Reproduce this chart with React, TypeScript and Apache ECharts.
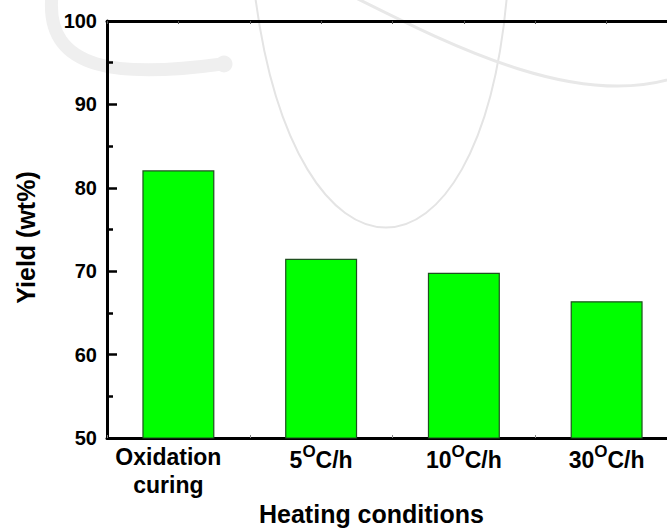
import React, { useEffect, useRef } from "react";
import * as echarts from "echarts";

// Heating conditions and the resulting yield (wt%)
const categories = ["Oxidation curing", "5 °C/h", "10 °C/h", "30 °C/h"];
const yields = [82.1, 71.5, 69.8, 66.4];
const yRange = { min: 50, max: 100, interval: 10 };

const FONT = "'Liberation Sans', Arial, Helvetica, sans-serif";

export default function App() {
  const ref = useRef<HTMLDivElement>(null);

  useEffect(() => {
    if (!ref.current) return;
    const chart = echarts.init(ref.current, undefined, { renderer: "svg" });

    const labelFormatter = (v: string) => {
      const m = v.match(/^(\d+) °C\/h$/);
      if (m) return `{num|${m[1]}}{sup|O}{num|C/h}`;
      return v
        .split(" ")
        .map((w) => `{word|${w}}`)
        .join("\n");
    };

    const faint = (color: string, width: number) => ({
      stroke: color,
      lineWidth: width,
      fill: null,
      lineCap: "round",
    });

    chart.setOption({
      animation: false,
      backgroundColor: "#ffffff",
      textStyle: { fontFamily: FONT },
      grid: {
        left: 107,
        top: 21,
        width: 571,
        height: 417,
        containLabel: false,
        outerBoundsMode: "none",
      },
      graphic: [
        {
          type: "bezierCurve",
          z: -1,
          silent: true,
          shape: { x1: 52, y1: -5, cpx1: 44, cpy1: 72, cpx2: 120, cpy2: 78, x2: 222, y2: 64 },
          style: faint("#efefef", 13),
        },
        {
          type: "circle",
          z: -1,
          silent: true,
          shape: { cx: 224, cy: 64, r: 8.5 },
          style: { fill: "#efefef" },
        },
        {
          type: "bezierCurve",
          z: -1,
          silent: true,
          shape: { x1: 255, y1: -5, cpx1: 295, cpy1: 305, cpx2: 480, cpy2: 305, x2: 507, y2: -5 },
          style: faint("#e4e4e4", 2),
        },
        {
          type: "bezierCurve",
          z: -1,
          silent: true,
          shape: { x1: 350, y1: -5, cpx1: 450, cpy1: 45, cpx2: 580, cpy2: 112, x2: 680, y2: 76 },
          style: faint("#e8e8e8", 3),
        },
      ],
      xAxis: [
        {
          type: "category",
          position: "bottom",
          data: categories,
          axisLine: { show: true, lineStyle: { color: "#000", width: 3 } },
          axisTick: { show: false },
          splitLine: { show: false },
          axisLabel: {
            margin: 5,
            interval: 0,
            color: "#000",
            formatter: labelFormatter,
            rich: {
              num: {
                fontFamily: FONT,
                fontWeight: "bold",
                fontSize: 23,
                lineHeight: 28,
                verticalAlign: "bottom",
                color: "#000",
              },
              sup: {
                fontFamily: FONT,
                fontWeight: "bold",
                fontSize: 17,
                lineHeight: 11,
                verticalAlign: "top",
                color: "#000",
              },
              word: {
                fontFamily: FONT,
                fontWeight: "bold",
                fontSize: 23,
                lineHeight: 28,
                padding: [0, 20, 0, 0],
                color: "#000",
              },
            },
          },
          name: "Heating conditions",
          nameLocation: "middle",
          nameGap: 62,
          nameTextStyle: {
            fontFamily: FONT,
            fontWeight: "bold",
            fontSize: 25,
            color: "#000",
            padding: [0, 42, 0, 0],
          },
        },
        {
          type: "value",
          position: "top",
          min: 0,
          max: 8,
          interval: 1,
          axisLine: { show: true, lineStyle: { color: "#000", width: 3 } },
          axisTick: { show: true, inside: true, length: 3, lineStyle: { color: "#555", width: 1 } },
          axisLabel: { show: false },
          splitLine: { show: false },
        },
        {
          type: "value",
          position: "bottom",
          min: 0,
          max: 8,
          interval: 1,
          axisLine: { show: false },
          axisTick: { show: true, inside: true, length: 3, lineStyle: { color: "#888", width: 1 } },
          axisLabel: { show: false },
          splitLine: { show: false },
        },
      ],
      yAxis: {
        type: "value",
        min: yRange.min,
        max: yRange.max,
        interval: yRange.interval,
        axisLine: { show: true, lineStyle: { color: "#000", width: 3 } },
        axisTick: { show: true, inside: true, length: 10, lineStyle: { color: "#000", width: 2.5 } },
        minorTick: { show: true, splitNumber: 2, length: 6, lineStyle: { color: "#000", width: 2.5 } },
        splitLine: { show: false },
        axisLabel: {
          margin: 10,
          color: "#000",
          fontFamily: FONT,
          fontWeight: "bold",
          fontSize: 20,
        },
        name: "Yield (wt%)",
        nameLocation: "middle",
        nameGap: 69,
        nameTextStyle: {
          fontFamily: FONT,
          fontWeight: "bold",
          fontSize: 25,
          color: "#000",
          padding: [0, 16, 0, 0],
        },
      },
      series: [
        {
          type: "bar",
          xAxisIndex: 0,
          yAxisIndex: 0,
          data: yields,
          barWidth: 72,
          itemStyle: {
            color: "#00ff00",
            borderColor: "#1f4f1f",
            borderWidth: 1.2,
          },
        },
      ],
    });

    return () => chart.dispose();
  }, []);

  return (
    <div
      ref={ref}
      style={{ position: "fixed", left: 0, top: 0, width: 667, height: 530, background: "#fff" }}
    />
  );
}
